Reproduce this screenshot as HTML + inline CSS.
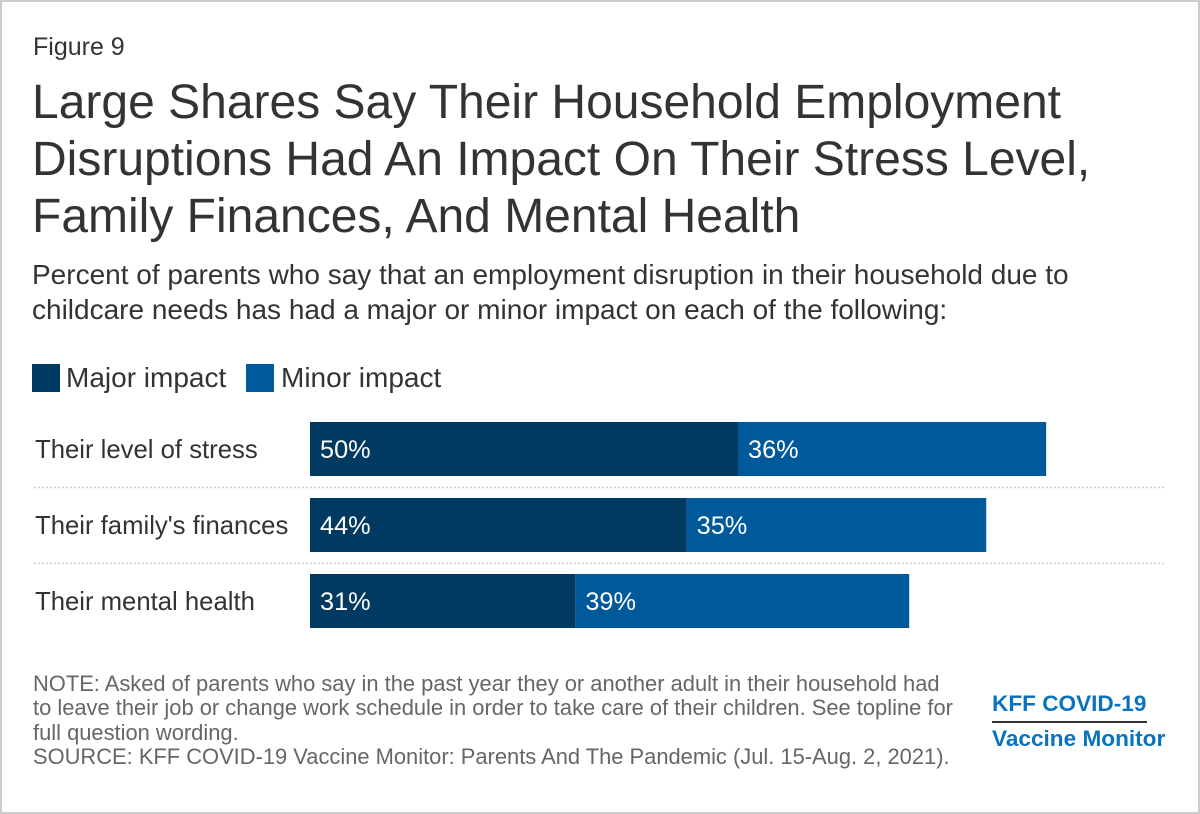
<!DOCTYPE html>
<html><head><meta charset="utf-8"><style>
body{margin:0;width:1200px;height:814px;background:#fff;font-family:"Liberation Sans",Arial,sans-serif;overflow:hidden}
#frame{position:absolute;left:0;top:0;width:1196px;height:810px;border:2px solid #ccc;}
.t{position:absolute;color:#333;white-space:nowrap}
</style></head><body>
<div id="frame"></div>
<div class="t" style="left:33px;top:33px;font-size:25px">Figure 9</div>
<div class="t" style="left:32px;top:74px;font-size:48px;line-height:57px;color:#333">Large Shares Say Their Household Employment<br>Disruptions Had An Impact On Their Stress Level,<br>Family Finances, And Mental Health</div>
<div class="t" style="left:32px;top:257px;font-size:28px;line-height:35px">Percent of parents who say that an employment disruption in their household due to<br>childcare needs has had a major or minor impact on each of the following:</div>
<div style="position:absolute;left:32px;top:364px;width:28px;height:28px;background:#003a61"></div>
<div class="t" style="left:66px;top:362px;font-size:28px">Major impact</div>
<div style="position:absolute;left:246px;top:364px;width:28px;height:28px;background:#00599a"></div>
<div class="t" style="left:281px;top:362px;font-size:28px">Minor impact</div>
<svg id="chart" width="1200" height="814" style="position:absolute;left:0;top:0"></svg>
<div class="t" style="left:33px;top:672px;font-size:21.9px;line-height:24.3px;color:#666">NOTE: Asked of parents who say in the past year they or another adult in their household had<br>to leave their job or change work schedule in order to take care of their children. See topline for<br>full question wording.<br>SOURCE: KFF COVID-19 Vaccine Monitor: Parents And The Pandemic (Jul. 15-Aug. 2, 2021).</div>
<div class="t" style="left:992px;top:691px;font-size:22.6px;font-weight:bold;color:#0a73bd">KFF COVID-19</div>
<div style="position:absolute;left:992px;top:721px;width:155px;height:2px;background:#333"></div>
<div class="t" style="left:992px;top:726px;font-size:22.6px;font-weight:bold;color:#0a73bd">Vaccine Monitor</div>
<script>
const categories=["Their level of stress","Their family's finances","Their mental health"];
const major=[50,44,31];
const minor=[36,35,39];
const NS="http://www.w3.org/2000/svg";
const svg=document.getElementById('chart');
const x0=310,pxPer=8.56,rowTop=422,rowStep=76,barH=54;
const x=v=>x0+v*pxPer;
function mk(tag,attrs,txt){const e=document.createElementNS(NS,tag);for(const k in attrs)e.setAttribute(k,attrs[k]);if(txt!==undefined)e.textContent=txt;svg.appendChild(e);return e;}
categories.forEach((c,i)=>{
  const y=rowTop+i*rowStep;
  const lab=mk('text',{x:35,y:y+36,'font-size':25.7,fill:'#333','font-family':'Liberation Sans, sans-serif'},c);
  
  
  const b1=mk('rect',{x:x(0),y:y,width:x(major[i])-x(0),height:barH,fill:'#003a61'});
  
  
  const b2=mk('rect',{x:x(major[i]),y:y,width:x(major[i]+minor[i])-x(major[i]),height:barH,fill:'#00599a'});
  
  
  const t1=mk('text',{x:x(0)+10,y:y+36,'font-size':25.3,fill:'#fff','font-family':'Liberation Sans, sans-serif'},major[i]+'%');
  
  
  const t2=mk('text',{x:x(major[i])+10,y:y+36,'font-size':25.3,fill:'#fff','font-family':'Liberation Sans, sans-serif'},minor[i]+'%');
  
  
  if(i<categories.length-1){
    const l=mk('line',{x1:34,x2:1166,y1:y+barH+11.5,y2:y+barH+11.5,stroke:'#ccc','stroke-width':1.5,'stroke-dasharray':'2 2'});
    
    
  }
});
</script>
</body></html>
